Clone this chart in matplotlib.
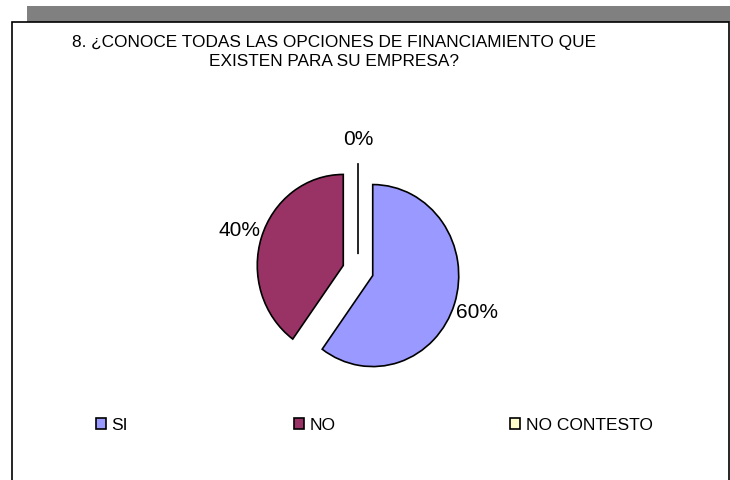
import matplotlib.pyplot as plt
from matplotlib.patches import Rectangle

plt.rcParams['font.family'] = ['Liberation Sans', 'DejaVu Sans']

categories = ["SI", "NO", "NO CONTESTO"]
values = [60, 40, 0]
colors = ["#9999FF", "#993366", "#FFFFCC"]
title_lines = ["8. ¿CONOCE TODAS LAS OPCIONES DE FINANCIAMIENTO QUE",
               "EXISTEN PARA SU EMPRESA?"]

W, H = 730, 481
fig = plt.figure(figsize=(W / 100, H / 100), dpi=100)

# grey band on top and the black frame of the chart area
fig.patches.append(Rectangle((27 / W, 1 - 23 / H), 1, 16 / H, transform=fig.transFigure,
                             facecolor="#808080", edgecolor="none", zorder=-2))
fig.patches.append(Rectangle((12 / W, -0.01), (729 - 12) / W, 1.01 - 23 / H,
                             transform=fig.transFigure, facecolor="none",
                             edgecolor="black", linewidth=1.2, zorder=-1))

fig.text(334 / W, 1 - 43 / H, title_lines[0], ha="center", va="center", fontsize=12.4)
fig.text(334 / W, 1 - 62 / H, title_lines[1], ha="center", va="center", fontsize=12.4)

# pie axes: centre ~(358, 271) px, radius ~86 px wide, 91 px high
cx, cy = 358, 271.5
aw, ah = 3.2 * 86, 3.2 * 91
ax = fig.add_axes([(cx - aw / 2) / W, 1 - (cy + ah / 2) / H, aw / W, ah / H])
ax.patch.set_visible(False)
wedges, texts, autotexts = ax.pie(values, colors=colors, startangle=90, counterclock=False,
                                  explode=[0.18, 0.18, 0.18], autopct="%d%%",
                                  pctdistance=1.27,
                                  wedgeprops=dict(edgecolor="black", linewidth=1.2),
                                  textprops=dict(fontsize=15))
ax.set_aspect("auto")
ax.set_xlim(-1.6, 1.6)
ax.set_ylim(-1.6, 1.6)

handles = [Rectangle((0, 0), 1, 1, facecolor=c, edgecolor="black", linewidth=1.2) for c in colors]
legend_x = [96, 294, 510]
for h, label, lx in zip(handles, categories, legend_x):
    fig.legend([h], [label], loc="center left", bbox_to_anchor=(lx / W, 1 - 426 / H),
               frameon=False, fontsize=12.5, handlelength=0.6, handleheight=0.6,
               handletextpad=0.3, borderpad=0, borderaxespad=0)

fig.savefig("out.png", dpi=100)
